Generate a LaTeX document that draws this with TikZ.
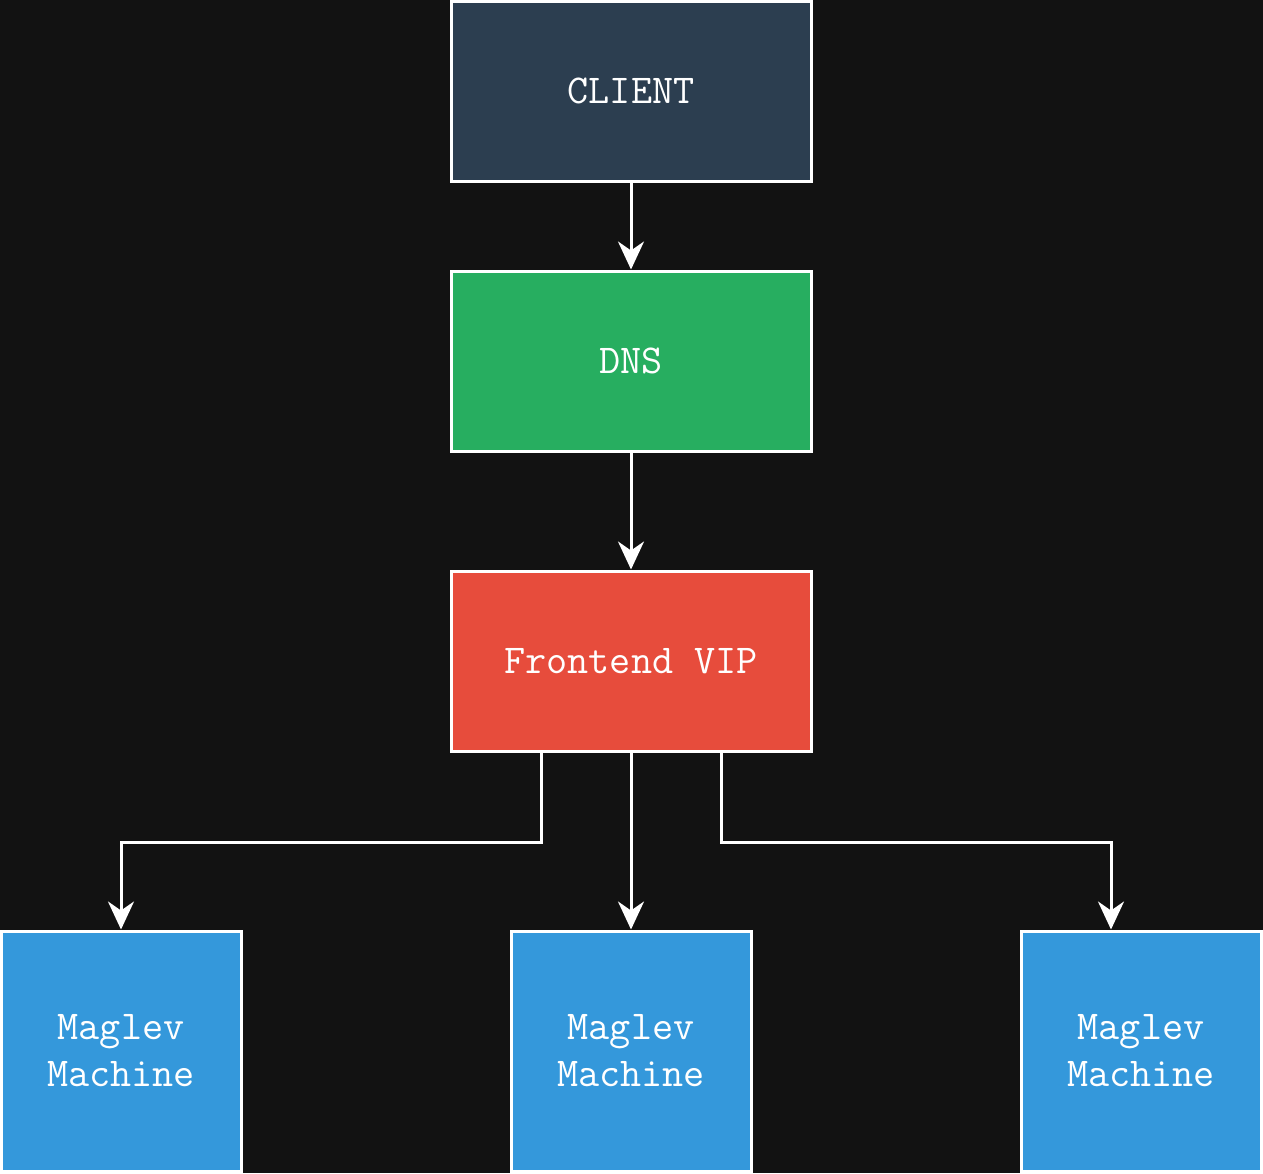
\documentclass[tikz,border=0pt]{standalone}
\usepackage{fontspec}
\usetikzlibrary{arrows.meta}
\definecolor{bg}{HTML}{121212}
\definecolor{clientc}{HTML}{2C3E50}
\definecolor{dnsc}{HTML}{27AE60}
\definecolor{fec}{HTML}{E74C3C}
\definecolor{magc}{HTML}{3498DB}
\tikzset{
  box/.style={draw=white, line width=3pt, text=white, align=center, inner sep=0pt,
    font=\ttfamily\fontsize{41}{47}\selectfont},
  widebox/.style={box, minimum width=360pt, minimum height=180pt},
  sqbox/.style={box, minimum width=240pt, minimum height=240pt, fill=magc},
  arr/.style={draw=white, line width=3pt, -{Stealth[length=28pt, width=26pt, inset=9pt]}}
}
\begin{document}
\begin{tikzpicture}[x=1pt, y=-1pt]
\fill[bg] (0,0) rectangle (1263,1173);
\useasboundingbox (0,0) rectangle (1263,1173);
\node[widebox, fill=clientc] (client) at (631,91) {CLIENT};
\node[widebox, fill=dnsc] (dns) at (631,361) {DNS};
\node[widebox, fill=fec] (fe) at (631,661) {Frontend VIP};
\node[sqbox] (m1) at (121,1051) {Maglev\\Machine};
\node[sqbox] (m2) at (631,1051) {Maglev\\Machine};
\node[sqbox] (m3) at (1141,1051) {Maglev\\Machine};
\draw[arr] (client.south) -- (dns.north);
\draw[arr] (dns.south) -- (fe.north);
\draw[arr] (fe.south) -- (m2.north);
\draw[arr] ([xshift=-90pt]fe.south) -- ++(0,90) -| (m1.north);
\draw[arr] ([xshift=90pt]fe.south) -- ++(0,90) -| ([xshift=-30pt]m3.north);
\end{tikzpicture}
\end{document}
